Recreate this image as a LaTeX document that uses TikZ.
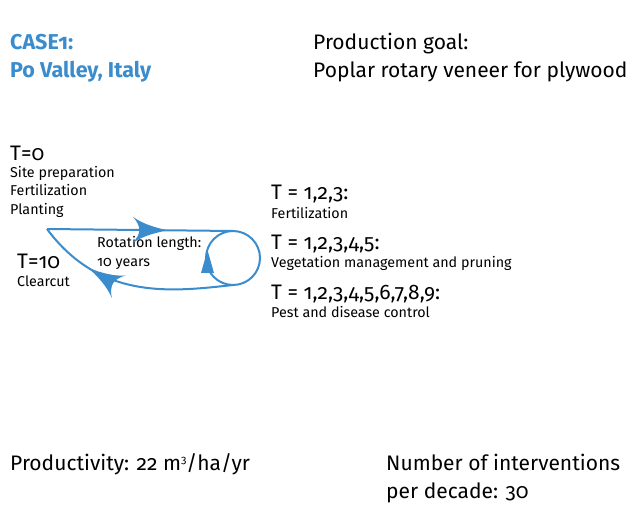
\documentclass[tikz,border=0pt]{standalone}
\usepackage{fontspec}
\setmainfont{Fira Sans}[Numbers=OldStyle]
\usepackage{tikz}
\usetikzlibrary{arrows}
\usetikzlibrary{decorations.markings}
\usetikzlibrary{positioning}
\definecolor{caseblue}{RGB}{58,140,205}
\tikzset{big/.style = {anchor=base west, inner sep=0, font=\fontsize{21}{24}\selectfont}}
\tikzset{small/.style = {anchor=base west, inner sep=0, font=\fontsize{14.3}{17}\selectfont}}
\tikzset{title/.style = {big, text=caseblue, font=\fontsize{21.5}{24}\selectfont\bfseries}}
\tikzset{loop/.style = {draw=caseblue, line width=2pt}}
\tikzset{midarrow/.style = {decoration={markings,
                                     mark=at position #1 with {\arrow[scale=4,caseblue]{latex'}}},
                         postaction={decorate}}}

\begin{document}
\begin{tikzpicture}[x=1pt, y=-1pt]
      \useasboundingbox (0,0) rectangle (643,513);

      \node [title] (case) at (10,50) {CASE1:};
      \node [title] (place) at (10,78) {Po Valley, Italy};
      \node [big] (goal) at (313,50) {Production goal:};
      \node [big] (product) at (313,78) {Poplar rotary veneer for plywood};

      \node [big] (t0) at (10,161) {T=0};
      \node [small] (site) at (10,178) {Site preparation};
      \node [small] (fert) at (10,196) {Fertilization};
      \node [small] (plant) at (10,215) {Planting};

      \node [big] (t10) at (17,269) {T=10};
      \node [small] (clear) at (17,287) {Clearcut};

      \node [small] (rot) at (97,248) {Rotation length:};
      \node [small] (years) at (97,267) {10 years};

      \node [big] (ta) at (271,200) {T = 1,2,3:};
      \node [small] (tafert) at (271,219) {Fertilization};
      \node [big] (tb) at (271,250) {T = 1,2,3,4,5:};
      \node [small] (tbveg) at (271,268) {Vegetation management and pruning};
      \node [big] (tc) at (271,299) {T = 1,2,3,4,5,6,7,8,9:};
      \node [small] (tcpest) at (271,317) {Pest and disease control};

      \node [big] (prod) at (10,470) {Productivity: 22 m{\fontsize{11}{11}\selectfont\raisebox{7pt}{3}}/ha/yr};
      \node [big] (num) at (386,470) {Number of interventions};
      \node [big] (dec) at (386,498) {per decade: 30};

      % rotation loop
      \coordinate (start) at (47,229);
      \coordinate (top) at (233,231);
      \coordinate (centre) at (233,258);
      \coordinate (bot) at (233,285);
      \coordinate (uptip) at (207.5,250);

      \draw [loop, midarrow=0.65] (start) -- (top);
      \draw [loop] (centre) circle (27);
      \fill [caseblue] (uptip) -- ++(-6.5,23) -- ++(13,0) -- cycle;
      \draw [loop, midarrow=0.72] (bot) .. controls (170,292) and (100,300) .. (start);
    \end{tikzpicture}
\end{document}
